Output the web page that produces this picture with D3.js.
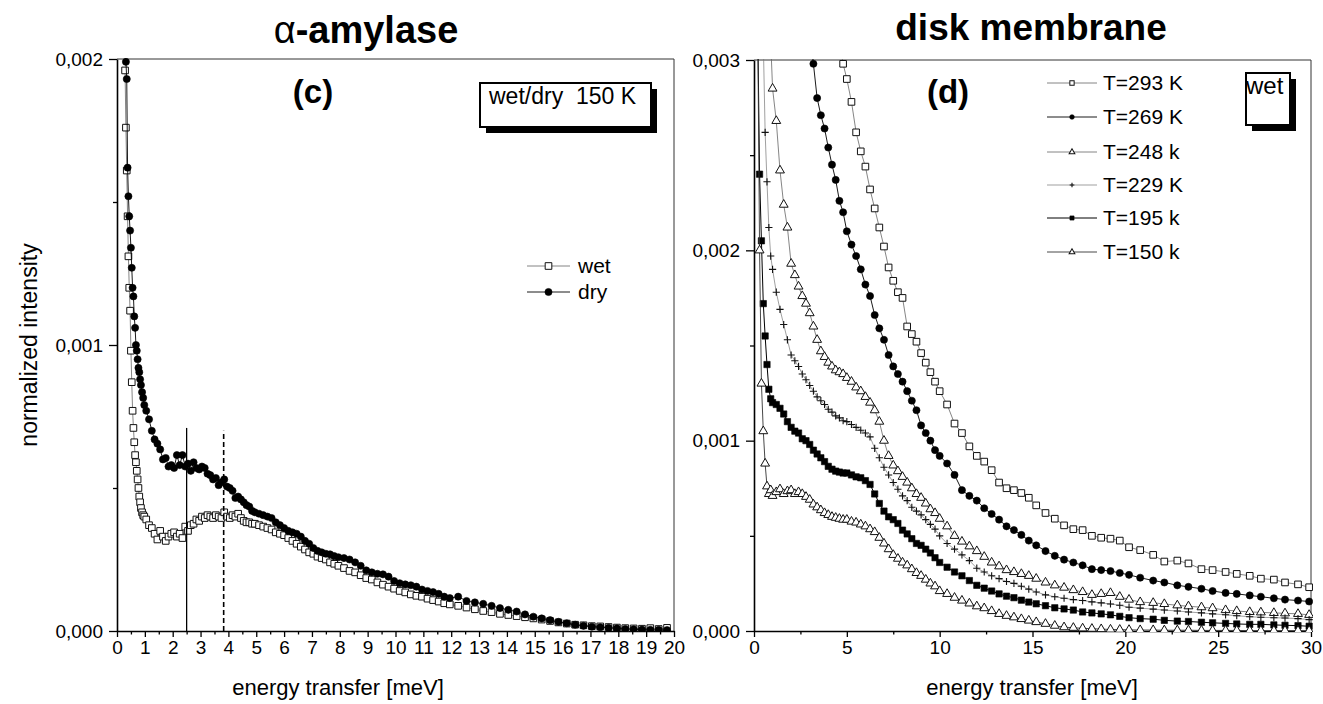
<!DOCTYPE html>
<html><head><meta charset="utf-8">
<script src="https://cdn.jsdelivr.net/npm/d3@7"></script>
<style>
body{margin:0;background:#fff}
text{font-family:"Liberation Sans",Arial,Helvetica,sans-serif;fill:#000}
</style>
</head><body>
<svg id="chart" width="1323" height="704" xmlns="http://www.w3.org/2000/svg"></svg>
<script>
// ---------- DATA (intensities in units of 1e-3) ----------
// Panel (c): alpha-amylase, wet / dry at 150 K
const energyL = [0.29,0.32,0.35,0.38,0.41,0.44,0.47,0.50,0.53,0.56,0.59,0.62,0.65,0.68,0.71,0.74,0.77,0.80,0.83,0.86,0.90,0.94,0.98,
 1.05,1.15,1.25,1.35,1.45,1.55,1.65,1.75,1.85,1.95,2.05,2.15,2.25,2.35,2.45,2.55,2.65,2.75,2.85,2.95,3.05,3.15,3.25,3.35,3.45,3.55,3.65,3.75,3.85,3.95,4.05,4.15,4.25,4.35,4.45,4.55,4.65,4.75,4.85,4.95,
 5.1,5.25,5.4,5.55,5.7,5.85,6.0,6.15,6.3,6.45,6.6,6.75,6.9,7.05,7.2,7.35,7.5,7.65,7.8,7.95,
 8.15,8.35,8.55,8.75,8.95,9.15,9.35,9.55,9.75,9.95,10.15,10.35,10.55,10.75,10.95,11.15,11.35,11.55,11.75,11.95,
 12.25,12.55,12.85,13.15,13.45,13.75,14.05,14.35,14.65,14.95,15.25,15.55,15.85,16.15,16.45,16.75,17.05,17.35,17.65,17.95,18.25,18.55,18.85,19.15,19.45,19.75];
const wet = [1.96,1.76,1.61,1.45,1.31,1.20,1.12,0.98,0.87,0.77,0.71,0.66,0.615,0.59,0.56,0.53,0.50,0.47,0.45,0.43,0.415,0.405,0.40,
 0.39,0.37,0.36,0.34,0.32,0.35,0.33,0.315,0.33,0.34,0.345,0.33,0.34,0.325,0.365,0.35,0.37,0.375,0.39,0.385,0.40,0.395,0.405,0.40,0.395,0.405,0.40,0.395,0.415,0.40,0.395,0.405,0.40,0.41,0.395,0.385,0.38,0.38,0.375,0.375,
 0.37,0.365,0.36,0.355,0.345,0.34,0.335,0.325,0.315,0.305,0.295,0.285,0.275,0.27,0.26,0.255,0.25,0.24,0.235,0.228,
 0.22,0.21,0.205,0.195,0.185,0.18,0.17,0.162,0.155,0.148,0.14,0.135,0.128,0.123,0.12,0.113,0.108,0.103,0.097,0.093,
 0.088,0.082,0.076,0.07,0.066,0.06,0.056,0.052,0.048,0.044,0.04,0.035,0.03,0.026,0.022,0.02,0.017,0.016,0.014,0.012,0.01,0.009,0.008,0.01,0.007,0.011];
const dry = [2.1,1.99,1.93,1.62,1.52,1.45,1.40,1.34,1.27,1.20,1.17,1.10,1.06,1.00,0.98,0.95,0.92,0.905,0.88,0.86,0.835,0.815,0.79,
 0.77,0.74,0.70,0.67,0.655,0.635,0.60,0.605,0.575,0.58,0.57,0.615,0.58,0.615,0.575,0.585,0.56,0.59,0.57,0.565,0.575,0.57,0.55,0.545,0.53,0.535,0.51,0.52,0.53,0.505,0.50,0.49,0.465,0.47,0.46,0.45,0.44,0.435,0.42,0.415,
 0.41,0.405,0.40,0.395,0.38,0.37,0.36,0.35,0.345,0.34,0.33,0.315,0.305,0.29,0.28,0.275,0.27,0.268,0.262,0.258,
 0.255,0.25,0.24,0.228,0.212,0.205,0.20,0.198,0.19,0.175,0.167,0.163,0.16,0.155,0.145,0.14,0.136,0.13,0.12,0.115,
 0.12,0.105,0.10,0.095,0.088,0.08,0.074,0.068,0.058,0.05,0.044,0.038,0.032,0.027,0.022,0.018,0.015,0.013,0.011,0.009,0.007,0.006,0.005,0.004,0.004,0.003];
const markerLinesL = [2.5, 3.83];      // vertical marker lines (solid, dashed)
const markerTopsL  = [0.71, 0.70];

// Panel (d): disk membrane, wet
const energyR = [0.2,0.3,0.4,0.5,0.6,0.7,0.8,0.9,1.0,
 1.2,1.4,1.6,1.8,2.0,2.2,2.4,2.6,2.8,3.0,3.2,3.4,3.6,3.8,4.0,4.2,4.4,4.6,4.8,5.0,
 5.25,5.5,5.75,6.0,6.25,6.5,6.75,7.0,7.25,7.5,7.75,8.0,8.25,8.5,8.75,9.0,9.25,9.5,9.75,10.0,
 10.4,10.8,11.2,11.6,12.0,12.4,12.8,13.2,13.6,14.0,14.4,14.8,15.2,
 15.7,16.2,16.7,17.2,17.7,18.2,18.7,19.2,19.7,20.2,
 20.8,21.5,22.1,22.8,23.4,24.1,24.7,25.4,26.0,26.7,27.3,28.0,28.6,29.3,29.9];
const T293 = [null,null,null,null,null,null,null,null,null,
 null,null,null,null,null,null,null,null,null,null,null,null,null,null,null,null,3.25,3.1,2.98,2.90,
 2.78,2.62,2.52,2.44,2.32,2.22,2.12,2.02,1.91,1.84,1.78,1.75,1.60,1.56,1.52,1.46,1.41,1.36,1.31,1.26,
 1.19,1.09,1.04,0.97,0.92,0.89,0.845,0.78,0.75,0.74,0.725,0.70,0.66,
 0.62,0.59,0.555,0.535,0.53,0.50,0.49,0.485,0.475,0.44,
 0.425,0.40,0.365,0.37,0.355,0.325,0.32,0.31,0.30,0.29,0.275,0.27,0.255,0.245,0.23];
const T269 = [null,null,null,null,null,null,null,null,null,
 null,null,null,null,null,null,null,null,null,3.15,2.98,2.80,2.71,2.64,2.54,2.45,2.37,2.26,2.20,2.10,
 2.03,1.97,1.90,1.82,1.76,1.66,1.59,1.53,1.45,1.39,1.35,1.31,1.26,1.21,1.16,1.08,1.04,1.00,0.95,0.92,
 0.88,0.82,0.74,0.71,0.685,0.645,0.615,0.585,0.55,0.53,0.505,0.475,0.45,
 0.42,0.395,0.375,0.36,0.345,0.325,0.32,0.315,0.305,0.295,
 0.28,0.265,0.255,0.24,0.232,0.222,0.21,0.20,0.195,0.187,0.18,0.172,0.165,0.16,0.155];
const T248 = [null,null,null,null,null,null,null,3.1,2.85,
 2.68,2.42,2.24,2.12,1.93,1.87,1.81,1.76,1.72,1.67,1.60,1.53,1.47,1.44,1.41,1.39,1.37,1.36,1.35,1.33,
 1.31,1.28,1.26,1.23,1.20,1.16,1.10,1.00,0.92,0.87,0.84,0.81,0.78,0.75,0.72,0.70,0.67,0.64,0.62,0.59,
 0.55,0.50,0.47,0.445,0.42,0.39,0.36,0.34,0.32,0.31,0.30,0.29,0.275,
 0.255,0.24,0.228,0.215,0.205,0.19,0.195,0.20,0.18,0.165,
 0.152,0.148,0.142,0.135,0.13,0.125,0.12,0.11,0.105,0.10,0.098,0.095,0.093,0.09,0.085];
const T229 = [null,null,null,3.1,2.62,2.36,2.12,1.97,1.90,
 1.78,1.69,1.61,1.53,1.45,1.42,1.39,1.35,1.32,1.29,1.26,1.23,1.21,1.19,1.165,1.15,1.13,1.12,1.105,1.10,
 1.085,1.07,1.055,1.04,1.02,0.96,0.91,0.86,0.82,0.78,0.745,0.71,0.685,0.65,0.63,0.61,0.585,0.56,0.535,0.50,
 0.46,0.43,0.40,0.37,0.33,0.31,0.29,0.275,0.26,0.25,0.235,0.22,0.205,
 0.19,0.18,0.172,0.165,0.16,0.153,0.148,0.142,0.135,0.125,
 0.12,0.115,0.11,0.105,0.10,0.095,0.09,0.085,0.08,0.075,0.072,0.07,0.068,0.065,0.06];
const T195 = [3.2,2.40,2.05,1.72,1.55,1.40,1.27,1.22,1.20,
 1.19,1.17,1.14,1.10,1.07,1.05,1.04,1.01,1.00,0.98,0.95,0.93,0.91,0.89,0.865,0.85,0.84,0.835,0.83,0.83,
 0.82,0.81,0.805,0.79,0.77,0.72,0.67,0.63,0.60,0.585,0.565,0.53,0.51,0.485,0.46,0.45,0.43,0.41,0.385,0.36,
 0.335,0.31,0.29,0.265,0.24,0.225,0.21,0.195,0.183,0.175,0.162,0.152,0.143,
 0.133,0.122,0.116,0.11,0.10,0.095,0.09,0.085,0.077,0.07,
 0.065,0.062,0.056,0.052,0.05,0.046,0.043,0.04,0.037,0.035,0.035,0.032,0.03,0.028,0.025];
const T150 = [3.2,2.0,1.30,1.05,0.88,0.76,0.72,0.74,0.71,
 0.73,0.745,0.72,0.735,0.74,0.72,0.73,0.72,0.705,0.69,0.665,0.65,0.635,0.62,0.61,0.60,0.595,0.59,0.585,0.585,
 0.575,0.57,0.56,0.55,0.535,0.52,0.49,0.46,0.43,0.40,0.38,0.36,0.345,0.325,0.305,0.29,0.27,0.25,0.235,0.21,
 0.195,0.175,0.16,0.145,0.13,0.12,0.105,0.09,0.08,0.072,0.063,0.055,0.047,
 0.038,0.028,0.02,0.017,0.014,0.012,0.01,0.008,0.007,0.006,
 0.005,0.005,0.004,0.004,0.004,0.003,0.003,0.003,0.003,0.002,0.002,0.002,0.002,0.002,0.002];
const seriesNamesR = ["T=293 K","T=269 K","T=248 k","T=229 K","T=195 k","T=150 k"];

// tick values / labels
const xTicksL = [0,1,2,3,4,5,6,7,8,9,10,11,12,13,14,15,16,17,18,19,20];
const xTickLabelsL = ["0","1","2","3","4","5","6","7","8","9","10","11","12","13","14","15","16","17","18","19","20"];
const xMinorL = [0.5,1.5,2.5,3.5,4.5,5.5,6.5,7.5,8.5,9.5,10.5,11.5,12.5,13.5,14.5,15.5,16.5,17.5,18.5,19.5];
const yTicksL = [0,1,2];
const yTickLabelsL = ["0,000","0,001","0,002"];
const yMinorL = [0.5,1.5];
const xTicksR = [0,5,10,15,20,25,30];
const xTickLabelsR = ["0","5","10","15","20","25","30"];
const xMinorR = [2.5,7.5,12.5,17.5,22.5,27.5];
const yTicksR = [0,1,2,3];
const yTickLabelsR = ["0,000","0,001","0,002","0,003"];
const yMinorR = [0.5,1.5,2.5];

// ---------- DRAWING ----------
const svg = d3.select("#chart");
svg.append("rect").attr("width",1323).attr("height",704).attr("fill","#fff");

const L = {x0:117,x1:674,y0:631,y1:59};
const R = {x0:754,x1:1311,y0:631,y1:60};
const xL = d3.scaleLinear().domain([0,20]).range([L.x0,L.x1]);
const yL = d3.scaleLinear().domain([0,2]).range([L.y0,L.y1]);
const xR = d3.scaleLinear().domain([0,30]).range([R.x0,R.x1]);
const yR = d3.scaleLinear().domain([0,3]).range([R.y0,R.y1]);

const defs = svg.append("defs");
function clip(id,P){
  defs.append("clipPath").attr("id",id).append("rect")
    .attr("x",P.x0).attr("y",P.y1-1).attr("width",P.x1-P.x0+2).attr("height",P.y0-P.y1+2);
}
clip("clipL",L); clip("clipR",R);

const FONT = '"Liberation Sans",Arial,sans-serif';
const FS_TICK = 19;
function axes(P,x,y,xt,xl,xm,yt,yl,ym){
  svg.append("path").attr("d",`M${P.x0},${P.y1}H${P.x1}V${P.y0}`)
    .attr("fill","none").attr("stroke","#333").attr("stroke-width",1);
  const gx = svg.append("g").attr("transform",`translate(0,${P.y0})`)
    .call(d3.axisBottom(x).tickValues(xt).tickSize(6).tickSizeOuter(0).tickPadding(4)
      .tickFormat((d,i)=>xl[i]));
  const gxm = svg.append("g").attr("transform",`translate(0,${P.y0})`)
    .call(d3.axisBottom(x).tickValues(xm).tickSize(3.5).tickSizeOuter(0).tickFormat(""));
  gxm.select(".domain").remove();
  const gy = svg.append("g").attr("transform",`translate(${P.x0},0)`)
    .call(d3.axisLeft(y).tickValues(yt).tickSize(8).tickSizeOuter(0).tickPadding(6)
      .tickFormat((d,i)=>yl[i]));
  const gym = svg.append("g").attr("transform",`translate(${P.x0},0)`)
    .call(d3.axisLeft(y).tickValues(ym).tickSize(4).tickSizeOuter(0).tickFormat(""));
  gym.select(".domain").remove();
  [gx,gy].forEach(g=>{
    g.select(".domain").attr("stroke","#000").attr("stroke-width",1.6);
    g.selectAll(".tick text").attr("font-size",FS_TICK).attr("fill","#000").style("font-family",FONT);
  });
  [gx,gy,gxm,gym].forEach(g=>g.selectAll(".tick line").attr("stroke","#000").attr("stroke-width",1.3));
}
axes(L,xL,yL,xTicksL,xTickLabelsL,xMinorL,yTicksL,yTickLabelsL,yMinorL);
axes(R,xR,yR,xTicksR,xTickLabelsR,xMinorR,yTicksR,yTickLabelsR,yMinorR);

// marker generators
const sym = {
  sqOpen:  {d:d3.symbol(d3.symbolSquare,44)(),  fill:"#fff", stroke:"#111", sw:1.0},
  circ:    {d:d3.symbol(d3.symbolCircle,40)(),  fill:"#000", stroke:"#000", sw:0.6},
  triOpen: {d:d3.symbol(d3.symbolTriangle,34)(),fill:"#fff", stroke:"#111", sw:1.0},
  plus:    {d:"M-3.6,0H3.6M0,-3.6V3.6",            fill:"none", stroke:"#111", sw:1.1},
  sqFill:  {d:d3.symbol(d3.symbolSquare,40)(),  fill:"#000", stroke:"#000", sw:0.6}
};

function series(clipId,x,y,E,V,marker,lineColor,lineW){
  const pts = E.map((e,i)=>({e,v:V[i]})).filter(d=>d.v!=null);
  const g = svg.append("g").attr("clip-path",`url(#${clipId})`);
  g.append("path").datum(pts)
    .attr("d",d3.line().x(d=>x(d.e)).y(d=>y(d.v)))
    .attr("fill","none").attr("stroke",lineColor).attr("stroke-width",lineW);
  const m = sym[marker];
  g.selectAll("path.m").data(pts).join("path").attr("class","m")
    .attr("d",m.d).attr("transform",d=>`translate(${x(d.e)},${y(d.v)})`)
    .attr("fill",m.fill).attr("stroke",m.stroke).attr("stroke-width",m.sw);
}

// ---- Left panel ----
series("clipL",xL,yL,energyL,wet,"sqOpen","#666",0.8);
series("clipL",xL,yL,energyL,dry,"circ","#000",0.9);
svg.append("line").attr("x1",xL(markerLinesL[0])).attr("x2",xL(markerLinesL[0]))
  .attr("y1",yL(0)).attr("y2",yL(markerTopsL[0])).attr("stroke","#000").attr("stroke-width",1.3);
svg.append("line").attr("x1",xL(markerLinesL[1])).attr("x2",xL(markerLinesL[1]))
  .attr("y1",yL(0)).attr("y2",yL(markerTopsL[1])).attr("stroke","#000").attr("stroke-width",1.6)
  .attr("stroke-dasharray","5,3");

// ---- Right panel ----
const rSeries = [
  {v:T293, m:"sqOpen", c:"#666", w:0.8},
  {v:T269, m:"circ",   c:"#000", w:0.9},
  {v:T248, m:"triOpen",c:"#666", w:0.8},
  {v:T229, m:"plus",   c:"#777", w:0.7},
  {v:T195, m:"sqFill", c:"#000", w:1.0},
  {v:T150, m:"triOpen",c:"#333", w:0.9}
];
rSeries.forEach(s=>series("clipR",xR,yR,energyR,s.v,s.m,s.c,s.w));

// ---- Texts ----
function txt(x,y,s,size,opt={}){
  const t = svg.append("text").attr("x",x).attr("y",y).attr("font-size",size)
    .style("font-family",FONT).text(s);
  if(opt.bold) t.attr("font-weight","bold");
  if(opt.anchor) t.attr("text-anchor",opt.anchor);
  if(opt.pre) t.style("white-space","pre");
  return t;
}
const t1 = svg.append("text").attr("x",366).attr("y",43).attr("text-anchor","middle")
  .attr("font-size",38).style("font-family",FONT);
t1.append("tspan").text("α");
t1.append("tspan").attr("font-weight","bold").text("-amylase");
txt(1031,40,"disk membrane",37,{bold:true,anchor:"middle"});
txt(313,103,"(c)",33,{bold:true,anchor:"middle"});
txt(948,103,"(d)",33,{bold:true,anchor:"middle"});

txt(338,695,"energy transfer [meV]",22,{anchor:"middle"});
txt(1032,695,"energy transfer [meV]",22,{anchor:"middle"});
svg.append("text").attr("transform","translate(37,345) rotate(-90)").attr("text-anchor","middle")
  .attr("font-size",23).style("font-family",FONT).text("normalized intensity");

function shadowBox(x,y,w,h){
  svg.append("rect").attr("x",x+6).attr("y",y+6).attr("width",w).attr("height",h).attr("fill","#000");
  svg.append("rect").attr("x",x).attr("y",y).attr("width",w).attr("height",h)
    .attr("fill","#fff").attr("stroke","#000").attr("stroke-width",2);
}
shadowBox(480,83,171,44);
txt(489,104,"wet/dry  150 K",23,{pre:true});
shadowBox(1246,73,44,52);
txt(1246,94,"wet",24);

function legendRow(x0,x1,y,marker,color,w,label,size,tx,msc){
  svg.append("line").attr("x1",x0).attr("x2",x1).attr("y1",y).attr("y2",y)
    .attr("stroke",color).attr("stroke-width",w);
  const m = sym[marker];
  svg.append("path").attr("d",m.d).attr("transform",`translate(${(x0+x1)/2},${y}) scale(${msc})`)
    .attr("fill",m.fill).attr("stroke",m.stroke).attr("stroke-width",m.sw/msc);
  txt(tx,y+7,label,size);
}
legendRow(527,570,266,"sqOpen","#666",0.8,"wet",21,578,1);
legendRow(527,570,292,"circ","#000",0.9,"dry",21,578,1);
const legY = [83,117,152,185,218,252];
rSeries.forEach((s,i)=>legendRow(1047,1097,legY[i],s.m,s.c,s.w,seriesNamesR[i],21,1103,0.65));
</script>
</body></html>
